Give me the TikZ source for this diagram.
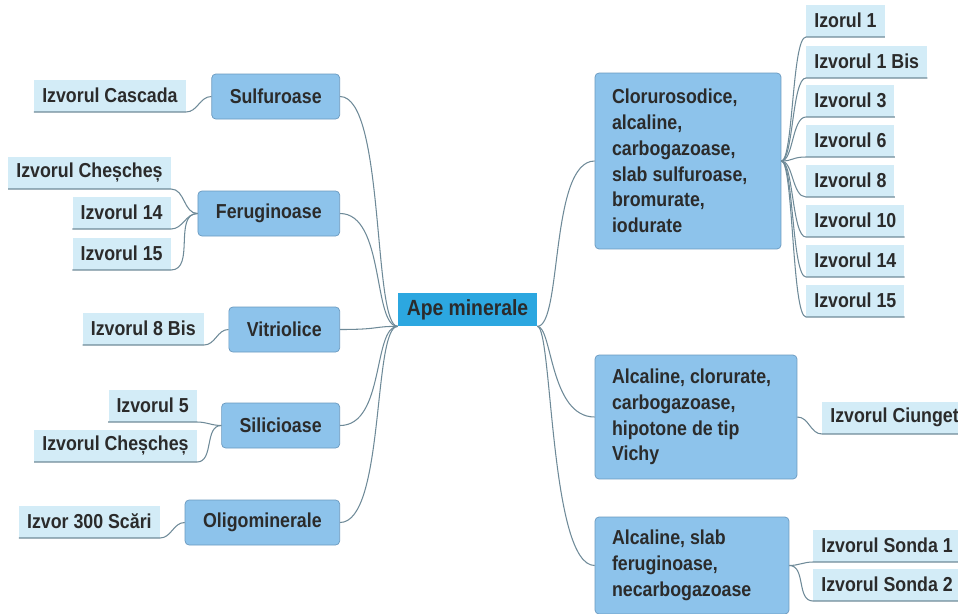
\documentclass[tikz,border=0pt]{standalone}
\usepackage{fontspec}
\setmainfont{Liberation Sans}[FakeStretch=0.88]
\usepackage{tikz}
\definecolor{rootblue}{HTML}{2CA7E0}
\definecolor{boxblue}{HTML}{8DC3EB}
\definecolor{boxedge}{HTML}{6A99BF}
\definecolor{leafblue}{HTML}{D3ECF7}
\definecolor{linkgray}{HTML}{6E8A98}
\definecolor{inkgray}{HTML}{2B2B2B}
\tikzstyle{root} = [fill=rootblue, minimum width=2.78cm, minimum height=0.66cm, text=inkgray, font=\fontsize{12.5pt}{15pt}\selectfont\bfseries]
\tikzstyle{kind} = [draw=boxedge, fill=boxblue, rounded corners=0.08cm, minimum height=0.9cm, inner xsep=0.36cm, text=inkgray, font=\fontsize{11.5pt}{14.7pt}\selectfont\bfseries]
\tikzstyle{group} = [kind, align=flush left, inner xsep=0.34cm]
\tikzstyle{leaf} = [fill=leafblue, minimum height=0.64cm, inner xsep=0.16cm, text=inkgray, font=\fontsize{11.5pt}{14.7pt}\selectfont\bfseries]
\tikzstyle{link} = [draw=linkgray, line width=0.6pt]

\begin{document}
\begin{tikzpicture}[x=0.02cm, y=-0.02cm]
\useasboundingbox (0,0) rectangle (958,613);
\clip (0,0) rectangle (958,613);
% centre
\node[root] (ape) at (467.5,309.5) {Ape minerale};
% left side
\node[kind, anchor=east] (sulf) at (340,96.5) {Sulfuroase};
\node[kind, anchor=east] (fer) at (340,213.5) {Feruginoase};
\node[kind, anchor=east] (vit) at (340,329.5) {Vitriolice};
\node[kind, anchor=east] (sil) at (340,425.5) {Silicioase};
\node[kind, anchor=east] (olig) at (340,522.5) {Oligominerale};
\node[leaf, anchor=south east] (cas) at (186,112) {Izvorul Cascada};
\node[leaf, anchor=south east] (fer1) at (171,189) {Izvorul Cheșcheș};
\node[leaf, anchor=south east] (fer2) at (171,229) {Izvorul 14};
\node[leaf, anchor=south east] (fer3) at (171,270) {Izvorul 15};
\node[leaf, anchor=south east] (vit1) at (204,345) {Izvorul 8 Bis};
\node[leaf, anchor=south east] (sil1) at (197,422) {Izvorul 5};
\node[leaf, anchor=south east] (sil2) at (197,462) {Izvorul Cheșcheș};
\node[leaf, anchor=south east] (olig1) at (160,538) {Izvor 300 Scări};
% right side
\node[group, text width=3.04cm, minimum height=3.52cm] (clor) at (688,161) {Clorurosodice,\\ alcaline,\\ carbogazoase,\\ slab sulfuroase,\\ bromurate,\\ iodurate};
\node[group, text width=3.36cm, minimum height=2.48cm] (alc) at (696,417) {Alcaline, clorurate,\\ carbogazoase,\\ hipotone de tip\\ Vichy};
\node[group, text width=3.2cm, minimum height=1.94cm] (slab) at (692,565.5) {Alcaline, slab\\ feruginoase,\\ necarbogazoase};
\node[leaf, anchor=south west] (cl1) at (806,37) {Izorul 1};
\node[leaf, anchor=south west] (cl2) at (806,78) {Izvorul 1 Bis};
\node[leaf, anchor=south west] (cl3) at (806,117) {Izvorul 3};
\node[leaf, anchor=south west] (cl4) at (806,157) {Izvorul 6};
\node[leaf, anchor=south west] (cl5) at (806,197) {Izvorul 8};
\node[leaf, anchor=south west] (cl6) at (806,237) {Izvorul 10};
\node[leaf, anchor=south west] (cl7) at (806,277) {Izvorul 14};
\node[leaf, anchor=south west] (cl8) at (806,317) {Izvorul 15};
\node[leaf, anchor=south west] (ciu) at (822,434) {Izvorul Ciunget};
\node[leaf, anchor=south west] (son1) at (813,562) {Izvorul Sonda 1};
\node[leaf, anchor=south west] (son2) at (813,601) {Izvorul Sonda 2};
% links from the centre
\path[link] (ape.south west) .. controls +(-25,0) and +(45,0) .. (sulf.east);
\path[link] (ape.south west) .. controls +(-25,0) and +(45,0) .. (fer.east);
\path[link] (ape.south west) .. controls +(-25,0) and +(40,0) .. (vit.east);
\path[link] (ape.south west) .. controls +(-25,0) and +(45,0) .. (sil.east);
\path[link] (ape.south west) .. controls +(-25,0) and +(45,0) .. (olig.east);
\path[link] (ape.south east) .. controls +(25,0) and +(-45,0) .. (clor.west);
\path[link] (ape.south east) .. controls +(15,0) and +(-45,0) .. (alc.west);
\path[link] (ape.south east) .. controls +(15,0) and +(-45,0) .. (slab.west);
% links to the springs
\path[link] (sulf.west) to[out=180,in=0] (cas.south east) -- (cas.south west);
\path[link] (fer.west) to[out=180,in=0] (fer1.south east) -- (fer1.south west);
\path[link] (fer.west) to[out=180,in=0] (fer2.south east) -- (fer2.south west);
\path[link] (fer.west) to[out=180,in=0] (fer3.south east) -- (fer3.south west);
\path[link] (vit.west) to[out=180,in=0] (vit1.south east) -- (vit1.south west);
\path[link] (sil.west) to[out=180,in=0] (sil1.south east) -- (sil1.south west);
\path[link] (sil.west) to[out=180,in=0] (sil2.south east) -- (sil2.south west);
\path[link] (olig.west) to[out=180,in=0] (olig1.south east) -- (olig1.south west);
\path[link] (clor.east) .. controls +(12,0) and +(-14,0) .. (cl1.south west) -- (cl1.south east);
\path[link] (clor.east) .. controls +(12,0) and +(-14,0) .. (cl2.south west) -- (cl2.south east);
\path[link] (clor.east) .. controls +(12,0) and +(-14,0) .. (cl3.south west) -- (cl3.south east);
\path[link] (clor.east) .. controls +(12,0) and +(-14,0) .. (cl4.south west) -- (cl4.south east);
\path[link] (clor.east) .. controls +(12,0) and +(-14,0) .. (cl5.south west) -- (cl5.south east);
\path[link] (clor.east) .. controls +(12,0) and +(-14,0) .. (cl6.south west) -- (cl6.south east);
\path[link] (clor.east) .. controls +(12,0) and +(-14,0) .. (cl7.south west) -- (cl7.south east);
\path[link] (clor.east) .. controls +(12,0) and +(-14,0) .. (cl8.south west) -- (cl8.south east);
\path[link] (alc.east) to[out=0,in=180] (ciu.south west) -- (ciu.south east);
\path[link] (slab.east) to[out=0,in=180] (son1.south west) -- (son1.south east);
\path[link] (slab.east) to[out=0,in=180] (son2.south west) -- (son2.south east);
\end{tikzpicture}
\end{document}
